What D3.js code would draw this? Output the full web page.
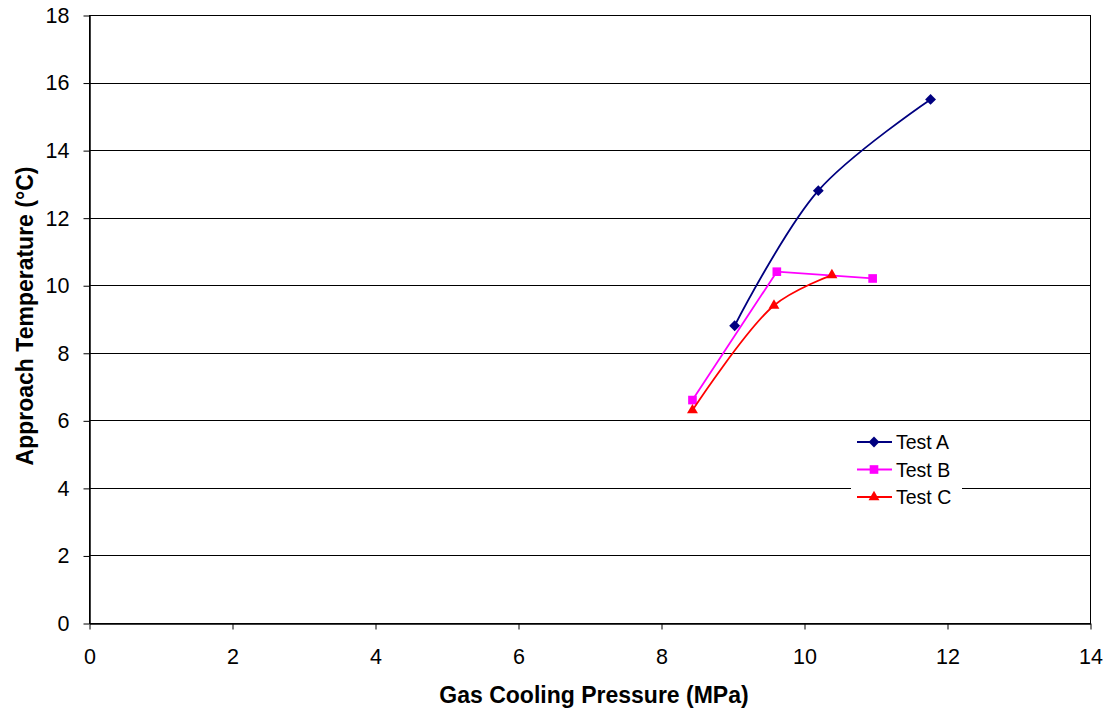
<!DOCTYPE html>
<html>
<head>
<meta charset="utf-8">
<script src="https://cdn.jsdelivr.net/npm/d3@7"></script>
<style>
  body { margin: 0; background: #fff; }
  text { font-family: "Liberation Sans", Arial, sans-serif; fill: #000; }
  .title { font-size: 23px; font-weight: bold; }
  .legend text { font-size: 19.5px; }
</style>
</head>
<body>
<div class="container"></div>
<script>
// chart values
const seriesNames = ["Test A", "Test B", "Test C"];
const testA = [[9.03, 8.8], [10.2, 12.8], [11.77, 15.5]];
const testB = [[8.44, 6.6], [9.62, 10.4], [10.96, 10.2]];
const testC = [[8.44, 6.3], [9.58, 9.4], [10.39, 10.3]];
const xTicks = [0, 2, 4, 6, 8, 10, 12, 14];
const yTicks = [0, 2, 4, 6, 8, 10, 12, 14, 16, 18];

const series = [
	{ name: seriesNames[0], values: testA, color: "#000080", symbol: d3.symbolDiamond2, size: 75, curve: d3.curveCatmullRom },
	{ name: seriesNames[1], values: testB, color: "#FF00FF", symbol: d3.symbolSquare2, size: 95, curve: d3.curveLinear },
	{ name: seriesNames[2], values: testC, color: "#FF0000", symbol: d3.symbolTriangle2, size: 85, curve: d3.curveCatmullRom }
];

const width = 1109, height = 710;
const plot = { left: 89, right: 1090, top: 15, bottom: 623 };

const svg = d3.select(".container")
	.append("svg")
		.attr("width", width)
		.attr("height", height);

const x = d3.scaleLinear().domain([0, 14]).range([plot.left, plot.right]);
const y = d3.scaleLinear().domain([0, 18]).range([plot.bottom, plot.top]);

// gridlines
svg.append("g")
	.selectAll("line")
	.data(yTicks.filter(d => d > 0))
		.enter()
	.append("line")
		.attr("x1", plot.left)
		.attr("x2", plot.right)
		.attr("y1", d => Math.round(y(d)) + 0.5)
		.attr("y2", d => Math.round(y(d)) + 0.5)
		.attr("stroke", "#000")
		.attr("stroke-width", 1);

// plot border
svg.append("rect")
	.attr("x", plot.left + 0.5)
	.attr("y", plot.top + 0.5)
	.attr("width", plot.right - plot.left)
	.attr("height", plot.bottom - plot.top)
	.attr("fill", "none")
	.attr("stroke", "#000")
	.attr("stroke-width", 1);

// axes
const xAxis = svg.append("g")
	.attr("transform", `translate(0.5, ${plot.bottom + 0.5})`)
	.call(d3.axisBottom(x).tickValues(xTicks).tickSize(6).tickPadding(19).tickSizeOuter(0));

const yAxis = svg.append("g")
	.attr("transform", `translate(${plot.left + 0.5}, 0.5)`)
	.call(d3.axisLeft(y).tickValues(yTicks).tickSize(6).tickPadding(14).tickSizeOuter(0));

[xAxis, yAxis].forEach(axis => {
	axis.select(".domain").attr("stroke", "#000").attr("stroke-width", 1.5);
	axis.selectAll(".tick line").attr("stroke", "#000");
	axis.selectAll(".tick text")
		.attr("fill", "#000")
		.style("font-size", "21.5px")
		.style("font-family", "'Liberation Sans', Arial, sans-serif");
});

// axis titles
svg.append("text")
	.attr("class", "title")
	.attr("x", 594)
	.attr("y", 703)
	.attr("text-anchor", "middle")
	.text("Gas Cooling Pressure (MPa)");

svg.append("text")
	.attr("class", "title")
	.attr("transform", "translate(33, 316) rotate(-90)")
	.attr("text-anchor", "middle")
	.text("Approach Temperature (°C)");

// series
const groups = svg.selectAll("g.series")
	.data(series)
		.enter()
	.append("g")
		.attr("class", "series");

groups.append("path")
	.attr("d", s => d3.line().x(d => x(d[0])).y(d => y(d[1])).curve(s.curve)(s.values))
	.attr("fill", "none")
	.attr("stroke", s => s.color)
	.attr("stroke-width", 1.8);

groups.each(function (s) {
	d3.select(this)
		.selectAll("path.marker")
		.data(s.values)
			.enter()
		.append("path")
			.attr("class", "marker")
			.attr("d", d3.symbol().type(s.symbol).size(s.size))
			.attr("transform", d => `translate(${x(d[0])}, ${y(d[1])})`)
			.attr("fill", s.color);
});

// legend
const legend = svg.append("g")
	.attr("class", "legend")
	.attr("transform", "translate(851, 427)");

legend.append("rect")
	.attr("width", 111)
	.attr("height", 85)
	.attr("fill", "#fff");

const entries = legend.selectAll("g.entry")
	.data(series)
		.enter()
	.append("g")
		.attr("class", "entry")
		.attr("transform", (s, i) => `translate(0, ${15 + i * 27.5})`);

entries.append("line")
	.attr("x1", 6)
	.attr("x2", 41)
	.attr("stroke", s => s.color)
	.attr("stroke-width", 1.8);

entries.append("path")
	.attr("d", s => d3.symbol().type(s.symbol).size(s.size)())
	.attr("transform", "translate(23, 0)")
	.attr("fill", s => s.color);

entries.append("text")
	.attr("x", 45)
	.attr("dy", "0.36em")
	.text(s => s.name);
</script>
</body>
</html>
